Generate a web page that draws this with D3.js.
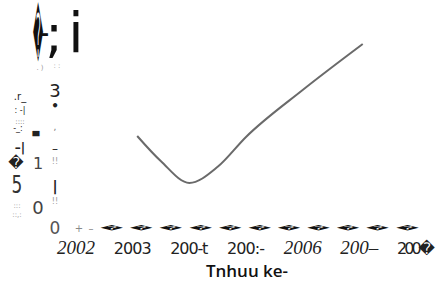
<!DOCTYPE html>
<html>
<head>
<meta charset="utf-8">
<script src="https://cdn.jsdelivr.net/npm/d3@7"></script>
<style>
  body { margin: 0; background: #fff; }
  svg { display: block; }
</style>
</head>
<body>
<svg width="438" height="282"></svg>
<script>
// line values
let years  = [2003.08, 2003.5, 2004.0, 2004.5, 2005.0, 2006.0, 2007.06];
let values = [2.0, 1.45, 0.98, 1.33, 1.98, 3.0, 4.0];

// x tick labels (garbled in the original, kept as is)
let tickYears  = [2002, 2003, 2004, 2005, 2006, 2007, 2008];
let tickLabels = ["2002", "2003", "200-t", "200:-", "2006", "200\u2013", "200\uFFFD"];
let tickItalic = [true, false, false, false, true, true, false];

// the row of squashed marks along the bottom
let markYears = [2002.63, 2003.15, 2003.67, 2004.2, 2004.72, 2005.24, 2005.76, 2006.28, 2006.8, 2007.32, 2007.85];

let xTitle = "Tnhuu ke-";

var svg = d3.select("svg");

var x = d3.scaleLinear().domain([2002, 2008]).range([76, 416]);
var y = d3.scaleLinear().domain([0, 4]).range([228, 44]);

// title glyphs top left
var title = svg.append("g").attr("font-family", "DejaVu Sans").attr("fill", "#111");
title.append("text").attr("transform", "translate(38,57) scale(0.33,2.0)")
  .attr("text-anchor", "middle").attr("font-size", 30).text("\uFFFD");
title.append("text").attr("x", 45).attr("y", 40).attr("font-size", 20).attr("font-weight", "bold")
  .attr("text-anchor", "middle").text("-");
title.append("text").attr("x", 54).attr("y", 52).attr("font-size", 52)
  .attr("text-anchor", "middle").text(";");
title.append("text").attr("x", 76).attr("y", 52).attr("font-size", 55)
  .attr("text-anchor", "middle").text("i");

// left scraps (y axis, garbled)
var yl = svg.append("g").attr("font-family", "DejaVu Sans").attr("fill", "#222");
yl.append("text").attr("x", 55).attr("y", 97).attr("font-size", 18).attr("text-anchor", "middle").text("3");
yl.append("text").attr("x", 55).attr("y", 110).attr("font-size", 12).attr("text-anchor", "middle").attr("font-weight", "bold").text("\u2022");
yl.append("text").attr("x", 57).attr("y", 68).attr("font-size", 7).attr("text-anchor", "middle").attr("fill", "#999").text(": :");
yl.append("text").attr("x", 40).attr("y", 70).attr("font-size", 7).attr("text-anchor", "middle").attr("fill", "#999").text(". )");
yl.append("text").attr("x", 55).attr("y", 130).attr("font-size", 9).attr("text-anchor", "middle").attr("fill", "#777").text(",");
yl.append("text").attr("x", 55).attr("y", 153).attr("font-size", 12).attr("text-anchor", "middle").text("\u2013");
yl.append("text").attr("x", 55).attr("y", 164).attr("font-size", 8).attr("text-anchor", "middle").attr("fill", "#999").text("!!");
yl.append("text").attr("x", 55).attr("y", 191).attr("font-size", 14).attr("text-anchor", "middle").attr("font-weight", "bold").text("|");
yl.append("text").attr("x", 55).attr("y", 204).attr("font-size", 8).attr("text-anchor", "middle").attr("fill", "#999").text("!!");
yl.append("text").attr("x", 55).attr("y", 234).attr("font-size", 17).attr("text-anchor", "middle").attr("fill", "#555").text("0");

yl.append("text").attr("x", 38).attr("y", 169).attr("font-size", 16).attr("text-anchor", "middle").attr("fill", "#444").text("1");
yl.append("text").attr("x", 38).attr("y", 214).attr("font-size", 18).attr("text-anchor", "middle").attr("fill", "#444").text("0");
yl.append("text").attr("x", 36).attr("y", 134).attr("font-size", 9).attr("text-anchor", "middle").attr("font-weight", "bold").text("\u2584");

yl.append("text").attr("x", 16).attr("y", 168).attr("font-size", 15).attr("text-anchor", "middle").text("\uFFFD");
yl.append("text").attr("transform", "translate(17,193) scale(0.85,1.2)").attr("font-size", 20).attr("text-anchor", "middle").attr("fill", "#333").text("5");
yl.append("text").attr("x", 20).attr("y", 100).attr("font-size", 10).attr("text-anchor", "middle").text(".r_");
yl.append("text").attr("x", 20).attr("y", 113).attr("font-size", 8).attr("text-anchor", "middle").text(": -|");
yl.append("text").attr("x", 20).attr("y", 124).attr("font-size", 7).attr("text-anchor", "middle").attr("fill", "#666").text("::::");
yl.append("text").attr("x", 18).attr("y", 131).attr("font-size", 8).attr("text-anchor", "middle").text("-_:");
yl.append("text").attr("x", 20).attr("y", 152).attr("font-size", 12).attr("text-anchor", "middle").attr("font-weight", "bold").text("\u2013|");
yl.append("text").attr("x", 17).attr("y", 208).attr("font-size", 7).attr("text-anchor", "middle").attr("fill", "#888").text(":::");
yl.append("text").attr("x", 17).attr("y", 217).attr("font-size", 7).attr("text-anchor", "middle").attr("fill", "#888").text("::,:");

// bottom mark row
svg.append("text").attr("x", 79).attr("y", 232).attr("font-size", 10).attr("text-anchor", "middle")
  .attr("fill", "#888").attr("font-family", "DejaVu Sans").text("+");
svg.append("text").attr("x", 91).attr("y", 232).attr("font-size", 10).attr("text-anchor", "middle")
  .attr("fill", "#888").attr("font-family", "DejaVu Sans").text("\u2013");

svg.selectAll(".mark")
  .data(markYears)
  .enter().append("text")
    .attr("class", "mark")
    .attr("transform", function(d) { return "translate(" + x(d) + ",230) scale(1.6,0.4)"; })
    .attr("text-anchor", "middle")
    .attr("font-family", "DejaVu Sans")
    .attr("font-size", 14)
    .attr("fill", "#111")
    .text("\uFFFD");

// tick labels
svg.selectAll(".tick-label")
  .data(tickYears)
  .enter().append("text")
    .attr("class", "tick-label")
    .attr("x", function(d) { return x(d); })
    .attr("y", 254)
    .attr("text-anchor", "middle")
    .attr("font-size", function(d, i) { return tickItalic[i] ? 19 : 16; })
    .attr("fill", "#222")
    .attr("font-family", function(d, i) { return tickItalic[i] ? "Liberation Serif" : "DejaVu Sans"; })
    .attr("font-style", function(d, i) { return tickItalic[i] ? "italic" : "normal"; })
    .attr("textLength", function(d, i) { return tickItalic[i] ? null : 38; })
    .text(function(d, i) { return tickLabels[i]; });

svg.append("text")
  .attr("x", 247).attr("y", 277)
  .attr("text-anchor", "middle")
  .attr("font-family", "Open Sans")
  .attr("font-weight", 600)
  .attr("font-size", 17)
  .attr("fill", "#111")
  .text(xTitle);

// the line
var line = d3.line()
  .x(function(d, i) { return x(years[i]); })
  .y(function(d) { return y(d); })
  .curve(d3.curveMonotoneX);

svg.append("path")
  .datum(values)
  .attr("fill", "none")
  .attr("stroke", "#6a6a6a")
  .attr("stroke-width", 2)
  .attr("d", line);
</script>
</body>
</html>
